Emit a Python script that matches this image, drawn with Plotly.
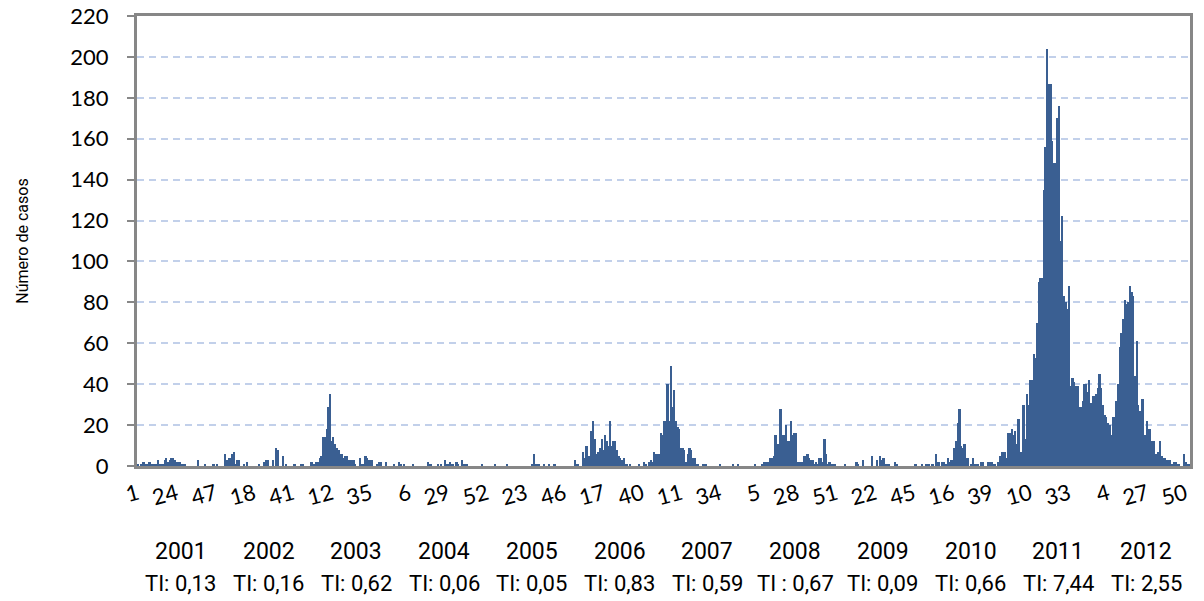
import plotly.graph_objects as go

# Weekly case counts, weeks 1..52 of each year
y2001 = [1,0,1,2,2,1,1,2,1,1, 1,1,3,1,1,1,3,4,2,3, 4,4,3,2,2,2,1,1,1,0, 0,0,0,0,0,0,3,0,0,0, 1,0,0,0,0,1,0,1,0,0, 0,0]
y2002 = [6,3,4,4,6,7,1,3,3,0, 0,1,0,2,0,0,0,0,0,0, 1,0,0,2,3,3,0,0,3,0, 9,8,0,0,5,0,1,0,0,0, 0,1,0,0,0,1,1,0,0,0, 0,2]
y2003 = [1,1,2,2,4,5,14,14,18,29, 35,12,14,11,9,8,6,6,4,5, 5,3,3,3,3,1,0,0,4,1, 1,5,4,3,3,3,0,0,1,2, 2,0,0,2,0,0,0,0,1,0, 0,2]
y2004 = [1,0,1,0,0,0,0,1,0,0, 0,0,0,0,0,0,2,1,1,0, 0,0,1,0,1,0,3,1,1,2, 1,1,0,2,1,0,3,1,1,1, 0,0,0,0,0,0,0,0,1,0, 0,0]
y2005 = [0,0,0,0,1,0,0,0,0,0, 0,1,0,0,0,0,0,0,0,0, 0,0,0,0,0,0,1,6,1,1, 1,0,0,1,0,0,1,0,0,1, 0,0,0,0,0,0,0,0,0,0, 0,3]
y2006 = [1,1,0,0,7,4,10,5,5,17, 22,13,6,7,9,13,8,15,12,10, 22,10,12,12,8,5,4,3,4,1, 1,0,1,0,0,0,0,1,0,0, 2,1,0,2,3,2,7,6,6,6, 16,15]
y2007 = [22,22,40,22,49,29,37,22,19,18, 9,9,8,2,6,9,8,4,4,1, 1,0,0,1,1,1,0,0,0,0, 0,0,0,1,0,0,0,0,0,0, 0,1,0,0,1,0,0,0,0,0, 0,0]
y2008 = [0,0,1,0,0,0,1,2,2,2, 2,4,4,5,15,11,11,28,15,15, 20,12,12,22,15,16,16,2,2,2, 2,5,5,6,4,3,3,1,2,1, 4,4,2,13,6,1,2,1,1,1, 0,0]
y2009 = [0,0,0,1,0,0,0,0,0,0, 2,1,0,0,3,0,0,0,0,5, 0,0,3,0,5,3,4,1,1,1, 0,0,0,2,1,0,0,0,0,0, 0,0,0,0,0,1,0,0,0,1, 0,1]
y2010 = [1,1,0,1,0,6,2,2,0,2, 2,1,4,2,3,3,9,12,21,28, 10,9,11,4,4,0,1,4,1,1, 1,0,2,2,0,0,2,2,2,1, 1,0,2,5,7,7,7,4,16,16, 18,15]
y2011 = [17,11,23,7,7,30,13,35,30,42, 42,55,53,70,90,92,92,135,156,204, 187,187,159,148,148,170,176,110,122,83, 80,77,88,39,43,41,39,39,29,29, 32,40,40,36,42,31,34,34,35,38, 45,38]
y2012 = [30,25,24,21,20,15,24,24,32,40, 58,65,72,81,79,80,88,85,83,44, 61,30,27,33,33,15,22,18,18,12, 12,6,6,7,12,5,4,4,3,3, 3,1,2,2,1,1,0,0,6,2, 1,1]

years = ["2001","2002","2003","2004","2005","2006","2007","2008","2009","2010","2011","2012"]
ti_labels = ["TI: 0,13","TI: 0,16","TI: 0,62","TI: 0,06","TI: 0,05","TI: 0,83",
             "TI: 0,59","TI : 0,67","TI: 0,09","TI: 0,66","TI: 7,44","TI: 2,55"]
tick_labels = ["1","24","47","18","41","12","35","6","29","52","23","46","17","40",
               "11","34","5","28","51","22","45","16","39","10","33","4","27","50"]

series = [y2001,y2002,y2003,y2004,y2005,y2006,y2007,y2008,y2009,y2010,y2011,y2012]
values = [v for yr in series for v in yr]
weeks_per_year = 52
xpos = list(range(len(values)))
tick_step = 23
tickvals = [i * tick_step for i in range(len(tick_labels))]

AXIS = "#878787"
BAR = "#3a5f92"
GRID = "#c2d0ea"

fig = go.Figure(go.Bar(x=xpos, y=values, marker=dict(color=BAR, line=dict(width=0)),
                       hoverinfo="y"))

narrow = "Roboto, Noto Sans, sans-serif"
ann = []
for k, (yr, ti) in enumerate(zip(years, ti_labels)):
    cx = k * weeks_per_year + (weeks_per_year - 1) / 2
    ann.append(dict(x=cx, y=-0.189, xref="x", yref="paper", text=yr, showarrow=False,
                    font=dict(family=narrow, size=23, color="#000"), xanchor="center", yanchor="middle"))
    ann.append(dict(x=cx, y=-0.26, xref="x", yref="paper", text=ti, showarrow=False,
                    font=dict(family=narrow, size=22, color="#000"), xanchor="center", yanchor="middle"))

fig.update_layout(
    width=1204, height=601, autosize=False,
    margin=dict(l=137, r=14, t=16, b=135),
    paper_bgcolor="white", plot_bgcolor="white",
    bargap=0, showlegend=False,
    annotations=ann,
    xaxis=dict(range=[-0.5, len(values) - 0.5], tickmode="array", tickvals=tickvals,
               ticktext=tick_labels, tickangle=-15, showgrid=False, zeroline=False,
               showline=True, linecolor=AXIS, linewidth=3, mirror=True, ticks="",
               automargin=False, ticklabelstandoff=4, ticklabeloverflow="allow",
               tickfont=dict(family="Lato, Noto Sans, sans-serif", size=22, color="#000")),
    yaxis=dict(range=[0, 220], dtick=20, tick0=0, showgrid=True, gridcolor=GRID,
               griddash="7px,5px", gridwidth=2, zeroline=False,
               showline=True, linecolor=AXIS, linewidth=3, mirror=True,
               ticks="outside", ticklen=7, tickwidth=2, tickcolor=AXIS,
               automargin=False, ticklabelstandoff=14, ticklabeloverflow="allow",
               tickfont=dict(family="Lato, Open Sans, sans-serif", size=22, color="#000"),
               title=dict(text="Número de casos", standoff=38,
                          font=dict(family=narrow, size=16, color="#000"))),
)

# remove the browser's default 8px body margin so the figure fills the window exactly
fig.write_html("out.html", config={"displayModeBar": False},
               post_script="document.body.style.margin='0';")
